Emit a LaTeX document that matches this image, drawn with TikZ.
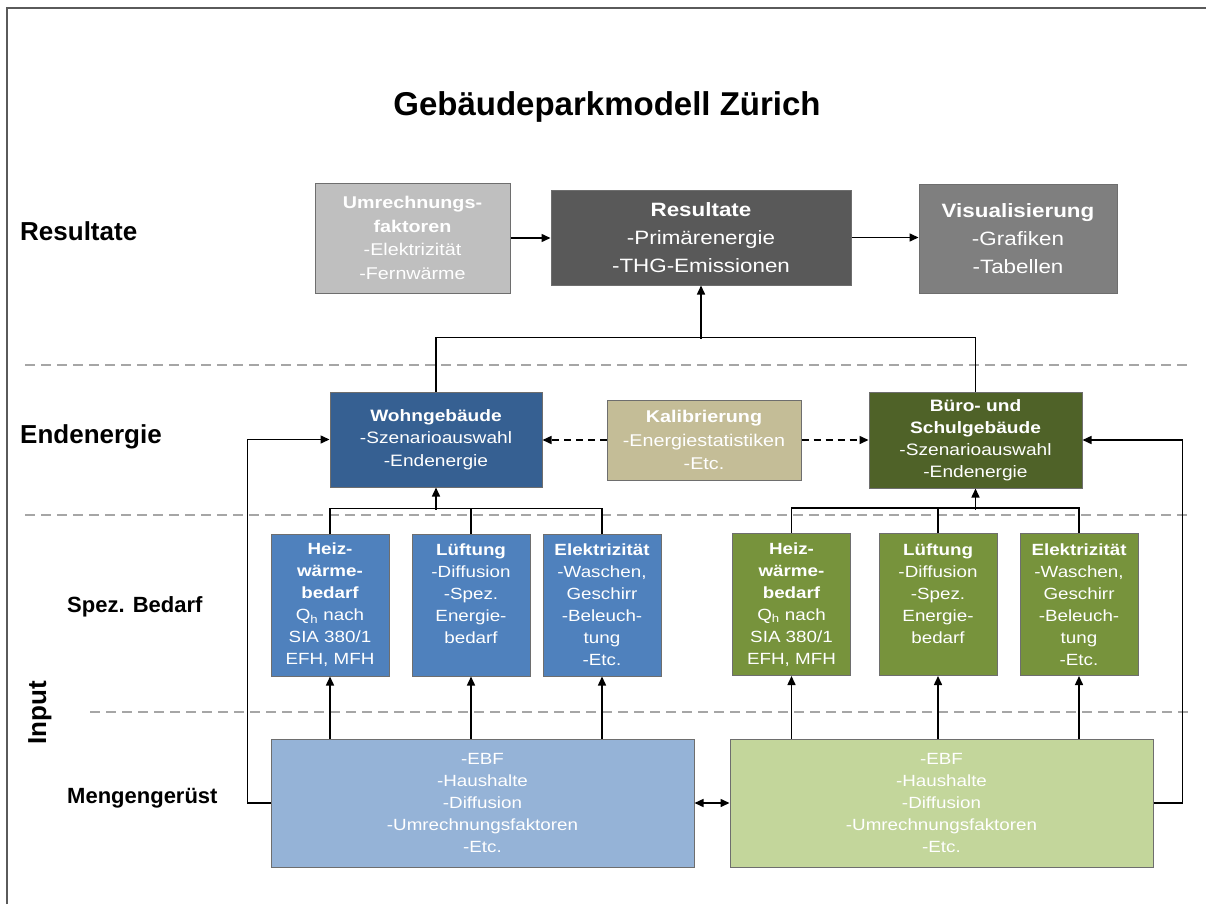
\documentclass[tikz,border=0pt]{standalone}
\usepackage{fontspec}
\setmainfont{Liberation Sans}
\newfontfamily\boxfont[FakeStretch=1.16]{Liberation Sans}
\usetikzlibrary{arrows.meta,calc}
\definecolor{boxline}{HTML}{6E6E6E}
\definecolor{framegray}{HTML}{5A5A5A}
\definecolor{sepgray}{HTML}{A6A6A6}
\definecolor{umrfill}{HTML}{BFBFBF}
\definecolor{resfill}{HTML}{595959}
\definecolor{visfill}{HTML}{7F7F7F}
\definecolor{wohnfill}{HTML}{366092}
\definecolor{kalfill}{HTML}{C4BD97}
\definecolor{buerofill}{HTML}{4F6228}
\definecolor{bluefill}{HTML}{4F81BD}
\definecolor{greenfill}{HTML}{77933C}
\definecolor{lbluefill}{HTML}{95B3D7}
\definecolor{lgreenfill}{HTML}{C3D69B}
\tikzset{
  bx/.style={draw=boxline, line width=1pt, text=white, align=center, inner sep=0pt},
  fbig/.style={font=\boxfont\fontsize{19.3}{28}\selectfont},
  fmid/.style={font=\boxfont\fontsize{17}{23.5}\selectfont},
  fsmall/.style={font=\boxfont\fontsize{16.2}{22}\selectfont},
  spez/.style={bx, fsmall, minimum width=118pt, minimum height=142pt},
  menge/.style={bx, fsmall, minimum width=423pt, minimum height=128pt},
  lbl/.style={font=\bfseries\fontsize{26}{30}\selectfont, inner sep=0pt, anchor=west},
  sublbl/.style={font=\bfseries\fontsize{22}{26}\selectfont, inner sep=0pt, anchor=west},
  conn/.style={line width=1.5pt},
  arr/.style={conn, -{Triangle[length=9pt,width=8pt]}},
  arrb/.style={conn, {Triangle[length=9pt,width=8pt]}-{Triangle[length=9pt,width=8pt]}},
  sep/.style={draw=sepgray, line width=1.3pt, dash pattern=on 10pt off 6pt},
}
\begin{document}
\begin{tikzpicture}[x=1pt,y=-1pt]
\useasboundingbox (0,0) rectangle (1206,904);
\draw[framegray, line width=1.3pt] (7,904) -- (7,8) -- (1206,8);

\node (title) at (607,107) {\bfseries\fontsize{33}{38}\selectfont Gebäudeparkmodell Zürich};

\node[lbl] (lres) at (20,231) {Resultate};
\node[lbl] (lend) at (20,437) {Endenergie};
\node[sublbl] (lspez) at (67,607) {Spez. Bedarf};
\node[sublbl] (lmenge) at (67,798) {Mengengerüst};
\node[lbl, anchor=center, rotate=90] (linput) at (40,713) {Input};

\draw[sep] (25,365) -- (1190,365);
\draw[sep] (25,515) -- (1190,515);
\draw[sep] (90,712) -- (1190,712);

\node[bx, fmid, fill=umrfill, minimum width=195pt, minimum height=110pt] (umr) at (412.5,238)
  {\textbf{Umrechnungs-}\\\textbf{faktoren}\\-Elektrizität\\-Fernwärme};
\node[bx, fbig, fill=resfill, minimum width=300pt, minimum height=95pt] (res) at (701,237.5)
  {\textbf{Resultate}\\-Primärenergie\\-THG-Emissionen};
\node[bx, fbig, fill=visfill, minimum width=198pt, minimum height=109pt] (vis) at (1018,238.5)
  {\textbf{Visualisierung}\\-Grafiken\\-Tabellen};

\node[bx, fmid, fill=wohnfill, minimum width=212pt, minimum height=95pt, font=\boxfont\fontsize{16.5}{22.5}\selectfont] (wohn) at (436,439.5)
  {\textbf{Wohngebäude}\\-Szenarioauswahl\\-Endenergie};
\node[bx, fmid, fill=kalfill, minimum width=194pt, minimum height=80pt] (kal) at (704,440)
  {\textbf{Kalibrierung}\\-Energiestatistiken\\-Etc.};
\node[bx, fill=buerofill, minimum width=213pt, minimum height=96pt, font=\boxfont\fontsize{16.5}{22}\selectfont] (buero) at (975.5,440)
  {\textbf{Büro- und}\\\textbf{Schulgebäude}\\-Szenarioauswahl\\-Endenergie};

\node[spez, fill=bluefill] (bheiz) at (330,605)
  {\textbf{Heiz-}\\\textbf{wärme-}\\\textbf{bedarf}\\Q\textsubscript{h} nach\\SIA 380/1\\EFH, MFH};
\node[spez, fill=bluefill] (bluft) at (471,605)
  {\textbf{Lüftung}\\-Diffusion\\-Spez.\\Energie-\\bedarf\\\phantom{x}};
\node[spez, fill=bluefill] (belek) at (602,605)
  {\textbf{Elektrizität}\\-Waschen,\\Geschirr\\-Beleuch-\\tung\\-Etc.};
\node[spez, fill=greenfill] (gheiz) at (791.5,604.5)
  {\textbf{Heiz-}\\\textbf{wärme-}\\\textbf{bedarf}\\Q\textsubscript{h} nach\\SIA 380/1\\EFH, MFH};
\node[spez, fill=greenfill] (gluft) at (938,604.5)
  {\textbf{Lüftung}\\-Diffusion\\-Spez.\\Energie-\\bedarf\\\phantom{x}};
\node[spez, fill=greenfill] (gelek) at (1079,604.5)
  {\textbf{Elektrizität}\\-Waschen,\\Geschirr\\-Beleuch-\\tung\\-Etc.};

\node[menge, fill=lbluefill] (bmenge) at (482.5,803)
  {-EBF\\-Haushalte\\-Diffusion\\-Umrechnungsfaktoren\\-Etc.};
\node[menge, fill=lgreenfill] (gmenge) at (941.5,803)
  {-EBF\\-Haushalte\\-Diffusion\\-Umrechnungsfaktoren\\-Etc.};

\draw[arr] (umr.east) -- (umr.east -| res.west);
\draw[arr] (res.east) -- (res.east -| vis.west);

\draw[conn] (wohn.north) -- ++(0,-54) -| (buero.north);
\draw[arr] ($(res.south)+(0,53)$) -- (res.south);

\draw[arr, dash pattern=on 7pt off 5pt] (kal.west) -- (kal.west -| wohn.east);
\draw[arr, dash pattern=on 7pt off 5pt] (kal.east) -- (kal.east -| buero.west);

\draw[conn] (bheiz.north) -- ++(0,-25) -| (belek.north);
\draw[conn] (bluft.north) -- ++(0,-25);
\draw[arr] ($(wohn.south)+(0,22)$) -- (wohn.south);
\draw[conn] (gheiz.north) -- ++(0,-25) -| (gelek.north);
\draw[conn] (gluft.north) -- ++(0,-25);
\draw[arr] ($(buero.south)+(0,21)$) -- (buero.south);

\foreach \s in {bheiz,bluft,belek}
  \draw[arr] (bmenge.north -| \s.south) -- (\s.south);
\foreach \s in {gheiz,gluft,gelek}
  \draw[arr] (gmenge.north -| \s.south) -- (\s.south);

\draw[arr] (bmenge.west) -- ++(-23,0) |- (wohn.west);
\draw[arr] (gmenge.east) -- ++(29,0) |- (buero.east);
\draw[arrb] (bmenge.east) -- (gmenge.west);
\end{tikzpicture}
\end{document}
